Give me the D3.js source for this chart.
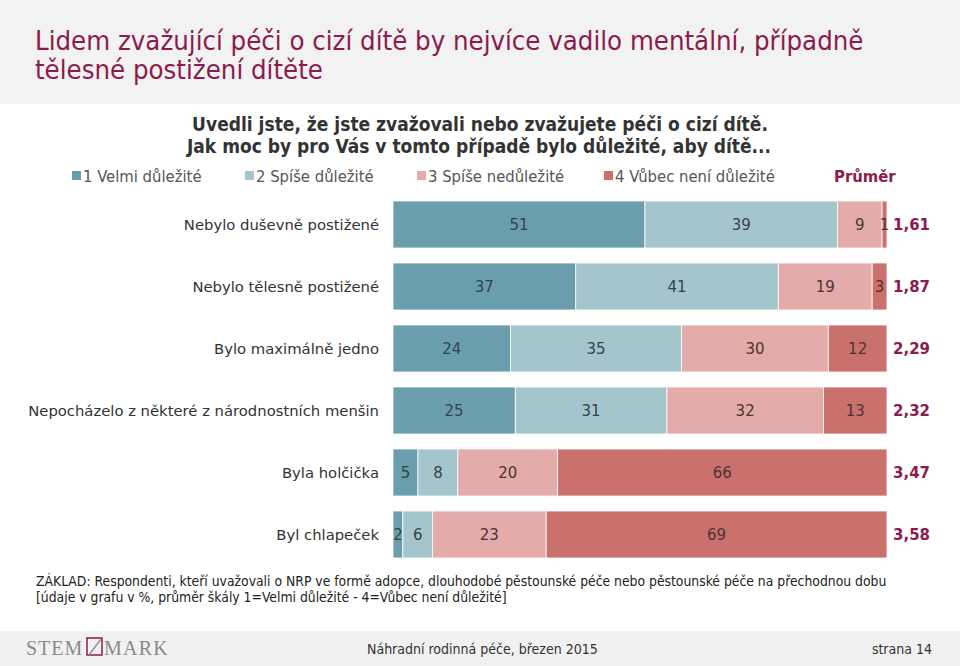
<!DOCTYPE html>
<html><head><meta charset="utf-8">
<script src="https://cdn.jsdelivr.net/npm/d3@7"></script>
<style>
body{margin:0;padding:0;background:#fff;}
svg{display:block;}
</style></head>
<body>
<svg id="c" width="960" height="666"></svg>
<script>
const categories = ["Nebylo duševně postižené","Nebylo tělesně postižené","Bylo maximálně jedno","Nepocházelo z některé z národnostních menšin","Byla holčička","Byl chlapeček"];
const seriesNames = ["1 Velmi důležité","2 Spíše důležité","3 Spíše nedůležité","4 Vůbec není důležité"];
const s1 = [51,37,24,25,5,2];
const s2 = [39,41,35,31,8,6];
const s3 = [9,19,30,32,20,23];
const s4 = [1,3,12,13,66,69];
const averages = ["1,61","1,87","2,29","2,32","3,47","3,58"];
const colors = ["#6a9ead","#a5c5cc","#e3aba9","#cb716d"];
const maroon = "#8c1b4d";

const svg = d3.select("#c");
const font = "'DejaVu Sans', Verdana, sans-serif";
const condensed = "'DejaVu Sans Condensed','DejaVu Sans', sans-serif";
const narrow = "'Liberation Sans Narrow','DejaVu Sans Condensed',sans-serif";

// header band
svg.append("rect").attr("x",0).attr("y",0).attr("width",960).attr("height",104).attr("fill","#f2f2f2");
const title = svg.append("text").attr("font-family",condensed).attr("font-size",27.3).attr("fill",maroon);
title.append("tspan").attr("x",35).attr("y",50).text("Lidem zvažující péči o cizí dítě by nejvíce vadilo mentální, případně");
title.append("tspan").attr("x",35).attr("y",79).text("tělesné postižení dítěte");

// subtitle
const sub = svg.append("text").attr("font-family",condensed).attr("font-size",19).attr("font-weight","bold").attr("fill","#333").attr("text-anchor","middle");
sub.append("tspan").attr("x",480).attr("y",131).text("Uvedli jste, že jste zvažovali nebo zvažujete péči o cizí dítě.");
sub.append("tspan").attr("x",479).attr("y",153).text("Jak moc by pro Vás v tomto případě bylo důležité, aby dítě...");

// legend
const legX = [72,245,417,604];
const leg = svg.append("g");
seriesNames.forEach((n,i)=>{
  leg.append("rect").attr("x",legX[i]).attr("y",171).attr("width",9).attr("height",9).attr("fill",colors[i]);
  leg.append("text").attr("x",legX[i]+11).attr("y",182).attr("font-family",condensed).attr("font-size",16.5).attr("fill","#555").text(n);
});
leg.append("text").attr("x",834).attr("y",182).attr("font-family",condensed).attr("font-size",16.5).attr("font-weight","bold").attr("fill",maroon).text("Průměr");

// bars
const y = d3.scaleBand().domain(categories).range([201,558]).paddingInner(15/62).paddingOuter(0);
const left = 393, right = 887;
const rows = categories.map((c,i)=>({cat:c, vals:[s1[i],s2[i],s3[i],s4[i]], avg:averages[i]}));
const g = svg.append("g");
rows.forEach(r=>{
  const total = d3.sum(r.vals);
  const x = d3.scaleLinear().domain([0,total]).range([left,right]);
  let cum = 0;
  r.vals.forEach((v,j)=>{
    const x0 = x(cum), x1 = x(cum+v);
    g.append("rect").attr("x",x0).attr("y",y(r.cat)).attr("width",x1-x0).attr("height",y.bandwidth())
      .attr("fill",colors[j]).attr("stroke","#fff").attr("stroke-width",0.8);
    g.append("text").attr("x",(x0+x1)/2).attr("y",y(r.cat)+y.bandwidth()/2+5.5)
      .attr("text-anchor","middle").attr("font-family",font).attr("font-size",15)
      .attr("fill", j<2 ? "#33434a" : "#4d3333").text(v);
    cum += v;
  });
  g.append("text").attr("x",379).attr("y",y(r.cat)+y.bandwidth()/2+5.5).attr("text-anchor","end")
    .attr("font-family",font).attr("font-size",14.8).attr("fill","#333").text(r.cat);
  g.append("text").attr("x",893).attr("y",y(r.cat)+y.bandwidth()/2+5.5)
    .attr("font-family",font).attr("font-size",15).attr("font-weight","bold").attr("fill",maroon).text(r.avg);
});

// footnote
const fn = svg.append("text").attr("font-family",narrow).attr("font-size",13.8).attr("fill","#222");
fn.append("tspan").attr("x",36).attr("y",586).text("ZÁKLAD: Respondenti, kteří uvažovali o NRP ve formě adopce, dlouhodobé pěstounské péče nebo pěstounské péče na přechodnou dobu");
fn.append("tspan").attr("x",36).attr("y",602).text("[údaje v grafu v %, průměr škály 1=Velmi důležité - 4=Vůbec není důležité]");

// footer
svg.append("rect").attr("x",0).attr("y",631).attr("width",960).attr("height",35).attr("fill","#f1f1f1");
const logo = svg.append("g");
logo.append("text").attr("x",26).attr("y",655).attr("font-family","'Liberation Serif',serif").attr("font-size",20).attr("fill","#8a8a8a").attr("letter-spacing",1).text("STEM");
logo.append("rect").attr("x",87).attr("y",638).attr("width",15).attr("height",17).attr("fill","none").attr("stroke",maroon).attr("stroke-width",1.5);
logo.append("line").attr("x1",89).attr("y1",655).attr("x2",101).attr("y2",639).attr("stroke","#8a8a8a").attr("stroke-width",1.3);
logo.append("text").attr("x",104).attr("y",655).attr("font-family","'Liberation Serif',serif").attr("font-size",20).attr("fill","#8a8a8a").attr("letter-spacing",1.2).text("MARK");
svg.append("text").attr("x",367).attr("y",654).attr("font-family",narrow).attr("font-size",14).attr("fill","#333").text("Náhradní rodinná péče, březen 2015");
svg.append("text").attr("x",932).attr("y",654).attr("text-anchor","end").attr("font-family",narrow).attr("font-size",14).attr("fill","#333").text("strana 14");
</script>
</body></html>
